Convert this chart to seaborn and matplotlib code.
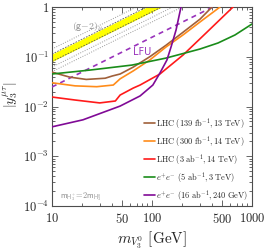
"""
Kisitlar: |y_3^{mu tau}| - m_{V_3^0} duzlemi, LHC ve e+e- beklenen limitleri
"""
import matplotlib
matplotlib.use("Agg")
import matplotlib.pyplot as plt
import matplotlib.ticker as mticker
from matplotlib.lines import Line2D
import seaborn as sns

# --- veri ---
lhc139_mass = [10, 15, 22, 34, 40, 48, 65, 95, 138, 204, 302, 398]
lhc139_y = [0.049, 0.039, 0.035, 0.037, 0.041, 0.045, 0.062, 0.10, 0.17, 0.31, 0.57, 1.0]

lhc300_mass = [10, 17, 28, 41, 48, 65, 95, 138, 204, 302, 479]
lhc300_y = [0.030, 0.026, 0.025, 0.027, 0.036, 0.052, 0.086, 0.157, 0.274, 0.50, 1.0]

lhc3ab_mass = [10, 17, 30, 43, 48, 65, 76, 120, 204, 347, 646]
lhc3ab_y = [0.0155, 0.0135, 0.0118, 0.0129, 0.017, 0.0235, 0.027, 0.045, 0.108, 0.30, 1.0]

ee3tev_mass = [10, 24, 63, 138, 302, 457, 676, 1000]
ee3tev_y = [0.045, 0.054, 0.068, 0.094, 0.143, 0.189, 0.274, 0.455]

ee240_mass = [10, 20.4, 48, 76, 102, 120, 141, 155, 174, 195]
ee240_y = [0.0039, 0.0054, 0.0102, 0.0163, 0.027, 0.047, 0.086, 0.157, 0.345, 1.0]

lfu_mass = [10, 405]
lfu_y = [0.0247, 1.0]

gm2_mass = [10, 1000]
gm2_lo = [0.080, 8.0]
gm2_hi = [0.113, 11.3]
gm2_dotted = [[0.143, 14.3], [0.062, 6.2], [0.050, 5.0]]

legend_labels = [
    r"$\mathrm{LHC}\ (139\ \mathrm{fb}^{-1}, 13\ \mathrm{TeV})$",
    r"$\mathrm{LHC}\ (300\ \mathrm{fb}^{-1}, 14\ \mathrm{TeV})$",
    r"$\mathrm{LHC}\ (3\ \mathrm{ab}^{-1}, 14\ \mathrm{TeV})$",
    r"$e^{+}e^{-}\ (5\ \mathrm{ab}^{-1}, 3\ \mathrm{TeV})$",
    r"$e^{+}e^{-}\ (16\ \mathrm{ab}^{-1}, 240\ \mathrm{GeV})$",
]
colors = ["#a0603a", "#ff8c1a", "#ff1a1a", "#1a8c1a", "#800a96"]

x_ticks = [10, 50, 100, 500, 1000]
x_ticklabels = [r"$10$", r"$50$", r"$100$", r"$500$", r"$1000$"]
y_ticks = [1e-4, 1e-3, 1e-2, 1e-1, 1]
y_ticklabels = [r"$10^{-4}$", r"$10^{-3}$", r"$10^{-2}$", r"$10^{-1}$", r"$1$"]

sns.set_theme(style="ticks")
plt.rcParams["mathtext.fontset"] = "cm"
plt.rcParams["font.family"] = ["DejaVu Sans"]

fig = plt.figure(figsize=(2.66, 2.52), dpi=100)
ax = fig.add_axes([52 / 266, 46 / 252, 200 / 266, 199 / 252])
ax.set_xscale("log")
ax.set_yscale("log")

# (g-2) bandi
ax.fill_between(gm2_mass, gm2_lo, gm2_hi, color="#ffff00", lw=0, zorder=1)
for edge in (gm2_lo, gm2_hi):
    sns.lineplot(x=gm2_mass, y=edge, ax=ax, color="0.35", lw=0.6,
                 linestyle=(0, (2, 1.5)), zorder=2)
for dot in gm2_dotted:
    sns.lineplot(x=gm2_mass, y=dot, ax=ax, color="0.6", lw=0.7,
                 linestyle=(0, (1, 1.5)), zorder=2)

# LFU
sns.lineplot(x=lfu_mass, y=lfu_y, ax=ax, color="#9933bb", lw=1.2,
             linestyle=(0, (3, 2.5)), zorder=3)

curves = [
    (lhc139_mass, lhc139_y),
    (lhc300_mass, lhc300_y),
    (lhc3ab_mass, lhc3ab_y),
    (ee3tev_mass, ee3tev_y),
    (ee240_mass, ee240_y),
]
for (m, y), c in zip(curves, colors):
    sns.lineplot(x=m, y=y, ax=ax, color=c, lw=1.2, zorder=4)

ax.set_xlim(10, 1000)
ax.set_ylim(1e-4, 1)

ax.xaxis.set_major_locator(mticker.FixedLocator(x_ticks))
ax.xaxis.set_major_formatter(mticker.FixedFormatter(x_ticklabels))
ax.xaxis.set_minor_locator(mticker.LogLocator(base=10, subs=range(2, 10)))
ax.xaxis.set_minor_formatter(mticker.NullFormatter())
ax.yaxis.set_major_locator(mticker.FixedLocator(y_ticks))
ax.yaxis.set_major_formatter(mticker.FixedFormatter(y_ticklabels))
ax.yaxis.set_minor_locator(mticker.LogLocator(base=10, subs=range(2, 10)))
ax.yaxis.set_minor_formatter(mticker.NullFormatter())

ax.tick_params(which="both", direction="in", top=True, right=True,
               labelsize=9, color="0.3", width=0.6)
ax.tick_params(axis="y", pad=2)
ax.tick_params(axis="x", pad=4)
ax.tick_params(which="major", length=4)
ax.tick_params(which="minor", length=2)
for sp in ax.spines.values():
    sp.set_color("0.3")
    sp.set_linewidth(0.8)

ax.set_xlabel(r"$m_{V_3^0}\ [\mathrm{GeV}]$", fontsize=11)
ax.xaxis.set_label_coords(0.5, -0.12)
fig.text(11 / 266, 1 - 95 / 252, r"$|y_3^{\mu\tau}|$", fontsize=10,
         rotation=90, ha="center", va="center")

ax.text(0.10, 0.90, r"$\mathsf{(g{-}2)}_\mu$", transform=ax.transAxes,
        color="0.55", fontsize=7, ha="left", va="center")
ax.text(0.405, 0.775, "LFU", transform=ax.transAxes, color="#9933bb",
        fontsize=7, ha="left", va="center")
ax.text(0.04, 0.045, r"$\mathsf{m}_{\mathsf{H}_3^{+}}\!=\!2\mathsf{m}_{\mathsf{H}_3^{0}}$",
        transform=ax.transAxes, color="0.55", fontsize=6, ha="left", va="center")

handles = [Line2D([0], [0], color=c, lw=1.2) for c in colors]
ax.legend(handles, legend_labels, loc="lower right", bbox_to_anchor=(1.0, 0.0),
          frameon=False, fontsize=6, handlelength=1.3, handletextpad=0.2,
          labelspacing=0.35, borderaxespad=0.2, borderpad=0.2)

fig.savefig("out.png", dpi=100)
plt.close(fig)
